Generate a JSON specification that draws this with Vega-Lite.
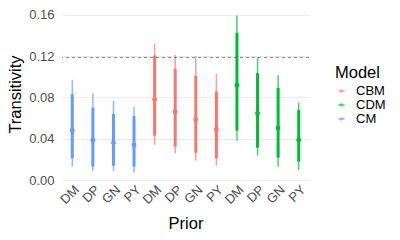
{
  "$schema": "https://vega.github.io/schema/vega-lite/v6.json",
  "width": 247,
  "height": 172,
  "autosize": {"type": "none"},
  "padding": {"left": 62, "top": 8, "right": 91, "bottom": 60},
  "background": "white",
  "config": {
    "view": {"stroke": null},
    "font": "Liberation Sans",
    "axis": {
      "domain": false,
      "ticks": false,
      "gridColor": "#EBEBEB",
      "labelColor": "#4D4D4D",
      "labelFontSize": 13,
      "titleFontSize": 16.5,
      "titleFontWeight": "normal",
      "titleColor": "#000000",
      "labelFont": "Liberation Sans",
      "titleFont": "Liberation Sans"
    },
    "legend": {
      "titleFontSize": 16.5,
      "titleFontWeight": "normal",
      "labelFontSize": 13,
      "labelFont": "Liberation Sans",
      "titleFont": "Liberation Sans",
      "labelColor": "#000000"
    }
  },
  "data": {
    "values": [
      {"Model": "CM", "Prior": "DM", "id": "CM|DM", "est": 0.048, "lo95": 0.013, "hi95": 0.097, "lo50": 0.021, "hi50": 0.083},
      {"Model": "CM", "Prior": "DP", "id": "CM|DP", "est": 0.0385, "lo95": 0.0087, "hi95": 0.084, "lo50": 0.013, "hi50": 0.070},
      {"Model": "CM", "Prior": "GN", "id": "CM|GN", "est": 0.036, "lo95": 0.0087, "hi95": 0.0766, "lo50": 0.0139, "hi50": 0.064},
      {"Model": "CM", "Prior": "PY", "id": "CM|PY", "est": 0.034, "lo95": 0.0071, "hi95": 0.0708, "lo50": 0.013, "hi50": 0.062},
      {"Model": "CBM", "Prior": "DM", "id": "CBM|DM", "est": 0.0779, "lo95": 0.034, "hi95": 0.132, "lo50": 0.043, "hi50": 0.1205},
      {"Model": "CBM", "Prior": "DP", "id": "CBM|DP", "est": 0.066, "lo95": 0.0259, "hi95": 0.121, "lo50": 0.0323, "hi50": 0.1076},
      {"Model": "CBM", "Prior": "GN", "id": "CBM|GN", "est": 0.0585, "lo95": 0.0187, "hi95": 0.120, "lo50": 0.0265, "hi50": 0.1008},
      {"Model": "CBM", "Prior": "PY", "id": "CBM|PY", "est": 0.049, "lo95": 0.0139, "hi95": 0.1028, "lo50": 0.021, "hi50": 0.0857},
      {"Model": "CDM", "Prior": "DM", "id": "CDM|DM", "est": 0.0918, "lo95": 0.0381, "hi95": 0.1593, "lo50": 0.0478, "hi50": 0.1425},
      {"Model": "CDM", "Prior": "DP", "id": "CDM|DP", "est": 0.0646, "lo95": 0.0236, "hi95": 0.119, "lo50": 0.0313, "hi50": 0.1034},
      {"Model": "CDM", "Prior": "GN", "id": "CDM|GN", "est": 0.0504, "lo95": 0.0129, "hi95": 0.1015, "lo50": 0.0216, "hi50": 0.0892},
      {"Model": "CDM", "Prior": "PY", "id": "CDM|PY", "est": 0.0388, "lo95": 0.0097, "hi95": 0.075, "lo50": 0.0178, "hi50": 0.0679}
    ]
  },
  "encoding": {
    "x": {
      "field": "id",
      "type": "nominal",
      "sort": ["CM|DM", "CM|DP", "CM|GN", "CM|PY", "CBM|DM", "CBM|DP", "CBM|GN", "CBM|PY", "CDM|DM", "CDM|DP", "CDM|GN", "CDM|PY"],
      "scale": {"type": "point", "padding": 0.5},
      "title": "Prior",
      "axis": {
        "labelExpr": "split(datum.value, '|')[1]",
        "labelAngle": -45,
        "labelAlign": "right",
        "labelBaseline": "top",
        "labelPadding": 3,
        "gridWidth": 1.2,
        "titlePadding": 9
      }
    },
    "color": {
      "field": "Model",
      "type": "nominal",
      "scale": {"domain": ["CBM", "CDM", "CM"], "range": ["#F8766D", "#00BA38", "#619CFF"]},
      "legend": {
        "orient": "none",
        "legendX": 273,
        "legendY": 57,
        "symbolType": "M-1,-0.2H-0.4V-0.45H0.4V-0.2H1V0.2H0.4V0.45H-0.4V0.2H-1Z",
        "symbolSize": 40,
        "symbolStrokeWidth": 0,
        "rowPadding": -4.5,
        "titlePadding": 3,
        "labelOffset": 8
      }
    }
  },
  "layer": [
    {
      "mark": {"type": "rule", "strokeWidth": 1.5, "opacity": 0.7},
      "encoding": {
        "y": {
          "field": "lo95",
          "type": "quantitative",
          "title": "Transitivity",
          "scale": {"domain": [0, 0.1665], "nice": false, "zero": false},
          "axis": {
            "values": [0, 0.02, 0.04, 0.06, 0.08, 0.1, 0.12, 0.14, 0.16],
            "labelExpr": "round(datum.value * 100) % 4 == 0 ? format(datum.value, '.2f') : ''",
            "gridWidth": {"condition": {"test": "round(datum.value * 100) % 4 == 0", "value": 1.2}, "value": 0.6},
            "labelPadding": 8,
            "titlePadding": 5
          }
        },
        "y2": {"field": "hi95"}
      }
    },
    {
      "mark": {"type": "rule", "strokeWidth": 3},
      "encoding": {
        "y": {"field": "lo50", "type": "quantitative"},
        "y2": {"field": "hi50"}
      }
    },
    {
      "mark": {"type": "point", "filled": true, "opacity": 1, "shape": "circle", "size": 24},
      "encoding": {
        "y": {"field": "est", "type": "quantitative"}
      }
    },
    {
      "data": {"values": [{"ref": 0.1186}]},
      "mark": {"type": "rule", "strokeDash": [3, 3], "color": "#555555", "strokeWidth": 0.7},
      "encoding": {
        "y": {"field": "ref", "type": "quantitative"},
        "x": null,
        "color": null
      }
    }
  ]
}
